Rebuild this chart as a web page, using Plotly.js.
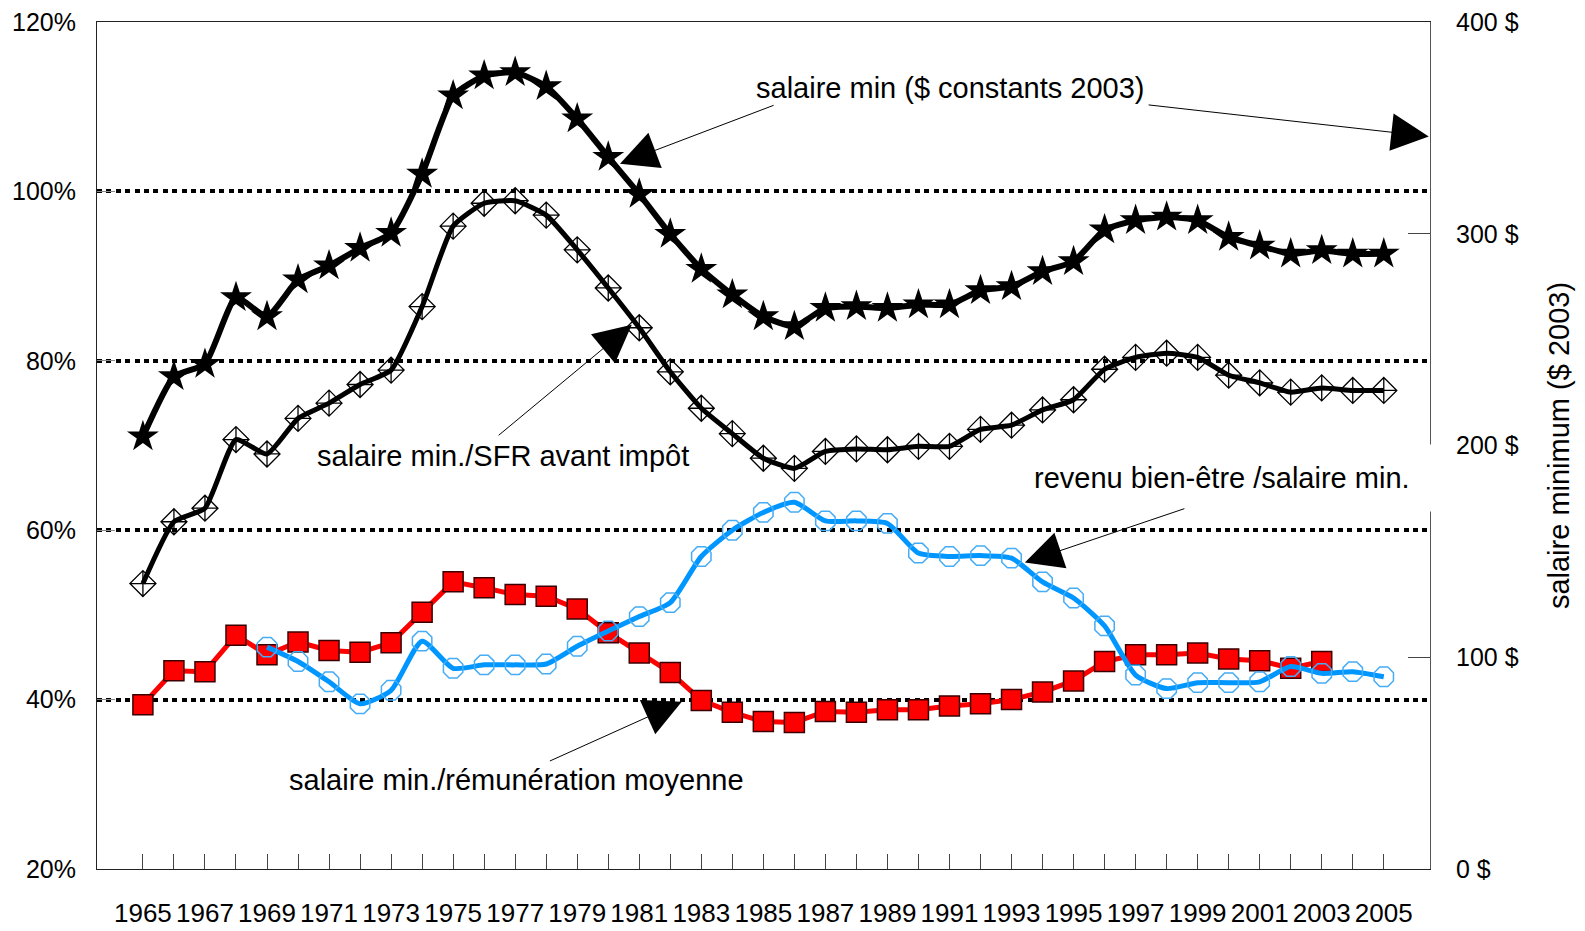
<!DOCTYPE html>
<html>
<head>
<meta charset="utf-8">
<script src="https://cdn.plot.ly/plotly-3.0.1.min.js"></script>
<style>
  html, body { margin: 0; padding: 0; background: #fff; }
  #chart { width: 1585px; height: 931px; }
</style>
</head>
<body>
<div id="chart"></div>
<script>
// ---------- data ----------
const years = [];
for (let y = 1965; y <= 2005; y++) years.push(y);

const yearLabels = years.map(y => (y % 2 === 1 ? String(y) : ''));

// salaire min ($ constants 2003) — right axis, $
const salaireMinDollars = [
  204.2, 232.6, 238.4, 269.9, 260.9, 278.3, 284.9, 293.2, 300.3, 328.2,
  365.2, 374.6, 376.2, 369.6, 354.3, 336.2, 318.7, 299.8, 283.3, 271.2,
  260.9, 256.2, 264.9, 265.7, 264.9, 266.5, 266.5, 273.2, 275.1, 282.2,
  286.9, 301.9, 306.3, 307.9, 306.3, 298.4, 294.3, 290.5, 292.1, 290.5,
  290.5
];

// salaire min./SFR avant impôt — left axis, %
const salaireSFR = [
  53.7, 61.0, 62.6, 70.7, 69.0, 73.2, 75.0, 77.2, 78.9, 86.4,
  95.9, 98.6, 98.9, 97.2, 93.1, 88.6, 83.9, 78.7, 74.4, 71.4,
  68.5, 67.3, 69.3, 69.6, 69.5, 69.9, 69.9, 71.9, 72.4, 74.2,
  75.4, 79.0, 80.4, 80.9, 80.4, 78.3, 77.4, 76.3, 76.8, 76.5,
  76.5
];

// salaire min./rémunération moyenne — left axis, %
const salaireRemun = [
  39.4, 43.4, 43.3, 47.6, 45.3, 46.8, 45.8, 45.6, 46.7, 50.3,
  53.9, 53.2, 52.4, 52.2, 50.7, 47.9, 45.5, 43.2, 39.9, 38.5,
  37.4, 37.3, 38.6, 38.5, 38.8, 38.8, 39.25, 39.5, 40.0, 40.9,
  42.2, 44.5, 45.3, 45.3, 45.5, 44.8, 44.6, 43.7, 44.5, null,
  null
];

// revenu bien-être /salaire min. — left axis, %
const bienEtre = [
  null, null, null, null, 46.2, 44.5, 42.1, 39.5, 41.1, 46.9,
  43.7, 44.1, 44.1, 44.2, 46.3, 48.1, 49.8, 51.45, 56.9, 60.0,
  62.1, 63.3, 61.1, 61.1, 60.8, 57.3, 56.9, 57.0, 56.7, 53.9,
  52.0, 48.7, 42.9, 41.3, 42.0, 42.0, 42.1, 43.9, 43.1, 43.3,
  42.7
];

const leftTickVals = [20, 40, 60, 80, 100, 120];
const leftTickText = ['20%', '40%', '60%', '80%', '100%', '120%'];
const rightTickVals = [0, 100, 200, 300, 400];
const rightTickText = ['0 $', '100 $', '200 $', '300 $', '400 $'];

// ---------- traces ----------
const traces = [
  {
    x: years, y: salaireRemun, type: 'scatter', mode: 'lines+markers',
    name: 'salaire min./rémunération moyenne',
    line: { color: '#ff0000', width: 5 },
    marker: { symbol: 'square', size: 20, color: '#ff0000', line: { color: '#3a0000', width: 1.5 } },
    yaxis: 'y'
  },
  {
    x: years, y: bienEtre, type: 'scatter', mode: 'lines+markers',
    name: 'revenu bien-être /salaire min.',
    line: { color: '#0096ff', width: 5, shape: 'spline', smoothing: 0.6 },
    marker: { symbol: 'octagon-open', size: 21, color: '#45acf5', line: { width: 1.5 } },
    yaxis: 'y'
  },
  {
    x: years, y: salaireSFR, type: 'scatter', mode: 'lines+markers',
    name: 'salaire min./SFR avant impôt',
    line: { color: '#000000', width: 5, shape: 'spline', smoothing: 0.5 },
    marker: { symbol: 'diamond-cross-open', size: 20, color: '#000000', line: { width: 1.3 } },
    yaxis: 'y'
  },
  {
    x: years, y: salaireMinDollars, type: 'scatter', mode: 'lines+markers',
    name: 'salaire min ($ constants 2003)',
    line: { color: '#000000', width: 6, shape: 'spline', smoothing: 0.5 },
    marker: { symbol: 'star', size: 24, color: '#000000' },
    yaxis: 'y2'
  }
];

// ---------- annotations ----------
const annFont = { family: 'Liberation Sans, Arial, sans-serif', size: 29, color: '#000' };
function arrow(tipX, tipY, tailX, tailY, yref) {
  return {
    xref: 'x', yref: yref || 'y', axref: 'x', ayref: yref || 'y',
    x: tipX, y: tipY, ax: tailX, ay: tailY, text: '',
    showarrow: true, arrowhead: 2, arrowsize: 7.5, arrowwidth: 1, arrowcolor: '#000',
    standoff: 0, startstandoff: 0
  };
}
const annotations = [
  { xref: 'x', yref: 'y', x: 1991.02, y: 112.2, text: 'salaire min ($ constants 2003)',
    showarrow: false, font: annFont, xanchor: 'center', yanchor: 'middle' },
  { xref: 'x', yref: 'y', x: 1976.62, y: 68.8, text: 'salaire min./SFR avant impôt',
    showarrow: false, font: annFont, xanchor: 'center', yanchor: 'middle' },
  { xref: 'x', yref: 'y', x: 1977.03, y: 30.5, text: 'salaire min./rémunération moyenne',
    showarrow: false, font: annFont, xanchor: 'center', yanchor: 'middle' },
  { xref: 'x', yref: 'y', x: 1993.34, y: 66.2, text: 'revenu bien-être /salaire min.',
    showarrow: false, font: annFont, xanchor: 'left', yanchor: 'middle',
    bgcolor: '#ffffff', borderpad: 11, width: 396, height: 44, align: 'left' },
  arrow(1980.38, 103.27, 1985.38, 110.23),
  arrow(2006.45, 106.49, 1997.37, 110.23),
  arrow(1980.76, 84.25, 1976.42, 71.06),
  arrow(1982.37, 39.76, 1978.07, 32.67),
  arrow(1993.43, 56.18, 1998.62, 62.6)
];

// ---------- layout ----------
const layout = {
  width: 1585, height: 931,
  margin: { l: 97, r: 155, t: 22, b: 62, pad: 0 },
  paper_bgcolor: '#ffffff', plot_bgcolor: '#ffffff',
  showlegend: false,
  font: { family: 'Liberation Sans, Arial, sans-serif', color: '#000' },
  xaxis: {
    range: [1963.52, 2006.49],
    tickmode: 'array', tickvals: years, ticktext: yearLabels,
    ticks: 'inside', ticklen: 15, tickwidth: 1, tickcolor: '#444',
    showline: true, linecolor: '#222', linewidth: 1, mirror: true,
    showgrid: false, zeroline: false,
    tickfont: { family: 'Liberation Sans, Arial, sans-serif', size: 26, color: '#000' },
    ticklabelstandoff: 21
  },
  yaxis: {
    range: [20, 120],
    tickmode: 'array', tickvals: leftTickVals, ticktext: leftTickText,
    ticks: 'inside', ticklen: 18, tickwidth: 1, tickcolor: '#888',
    showline: true, linecolor: '#222', linewidth: 1,
    showgrid: true, gridcolor: '#000', gridwidth: 4, griddash: '5px,4.4px',
    zeroline: false,
    tickfont: { family: 'Liberation Sans, Arial, sans-serif', size: 25, color: '#000' },
    ticklabelstandoff: 15
  },
  yaxis2: {
    range: [0, 400], overlaying: 'y', side: 'right',
    tickmode: 'array', tickvals: rightTickVals, ticktext: rightTickText,
    ticks: 'inside', ticklen: 22, tickwidth: 1, tickcolor: '#444',
    showline: true, linecolor: '#555', linewidth: 1,
    showgrid: false, zeroline: false,
    tickfont: { family: 'Liberation Sans, Arial, sans-serif', size: 25, color: '#000' },
    ticklabelstandoff: 20,
    title: { text: 'salaire minimum ($ 2003)', standoff: 31,
             font: { family: 'Liberation Sans, Arial, sans-serif', size: 29, color: '#000' } }
  },
  annotations: annotations
};

Plotly.newPlot('chart', traces, layout, { displayModeBar: false, staticPlot: true });
</script>
</body>
</html>
